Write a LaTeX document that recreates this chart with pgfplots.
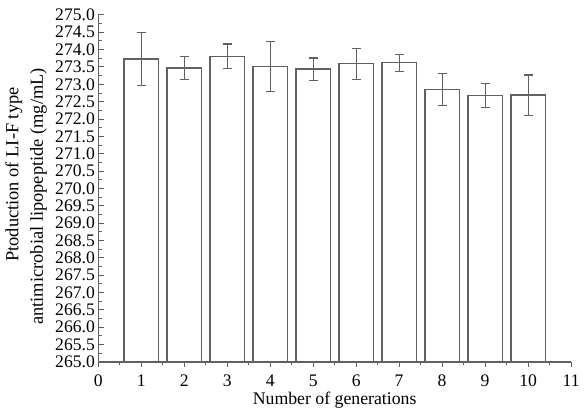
\documentclass[border=0pt]{standalone}
\usepackage{pgfplots}
\pgfplotsset{compat=1.18}
\usepackage{fontspec}
\setmainfont{Liberation Serif}
\definecolor{linegray}{gray}{0.38}
\begin{document}
\begin{tikzpicture}
\begin{axis}[
  scale only axis,
  width=357pt, height=262pt,
  axis lines*=left,
  axis line style={linegray, line width=0.9pt},
  xmin=0, xmax=11, ymin=265, ymax=275,
  xtick={0,...,11},
  minor x tick num=1,
  ytick={265,265.5,...,275.1},
  minor y tick num=1,
  yticklabel style={xshift=1pt, /pgf/number format/fixed,
    /pgf/number format/fixed zerofill, /pgf/number format/precision=1},
  /pgf/number format/assume math mode=true,
  tick style={linegray, line width=0.7pt},
  major tick length=4pt, minor tick length=2.5pt,
  tick align=inside,
  ticklabel style={font=\fontsize{13.3}{14}\selectfont},
  xticklabel style={yshift=-2pt},
  xlabel={Number of generations},
  ylabel={\begin{tabular}{c}\hspace*{33pt}Ptoduction of LI-F type\\[3.5pt]antimicrobial lipopeptide (mg/mL)\end{tabular}},
  xlabel style={font=\fontsize{13.4}{15}\selectfont, yshift=2.4pt},
  ylabel style={font=\fontsize{13.9}{15}\selectfont, yshift=-2pt, xshift=-6pt},
  ybar, bar width=0.8, bar shift=0pt,
]
\addplot[draw=linegray, line width=1pt, fill=white,
  error bars/.cd, y dir=both, y explicit,
  error bar style={linegray, line width=0.9pt},
  error mark options={rotate=90, mark size=3.4pt, linegray, line width=0.9pt}]
coordinates {
  (1,273.73) +- (0,0.76)
  (2,273.47) +- (0,0.33)
  (3,273.81) +- (0,0.35)
  (4,273.52) +- (0,0.72)
  (5,273.44) +- (0,0.32)
  (6,273.59) +- (0,0.45)
  (7,273.62) +- (0,0.24)
  (8,272.85) +- (0,0.47)
  (9,272.68) +- (0,0.35)
  (10,272.69) +- (0,0.58)
};
\coordinate (T) at (rel axis cs:0,1);
\coordinate (B) at (rel axis cs:0,0);
\end{axis}
\path (T) ++(0,11.25pt);
\path (B) ++(0,-36pt);
\end{tikzpicture}
\end{document}
